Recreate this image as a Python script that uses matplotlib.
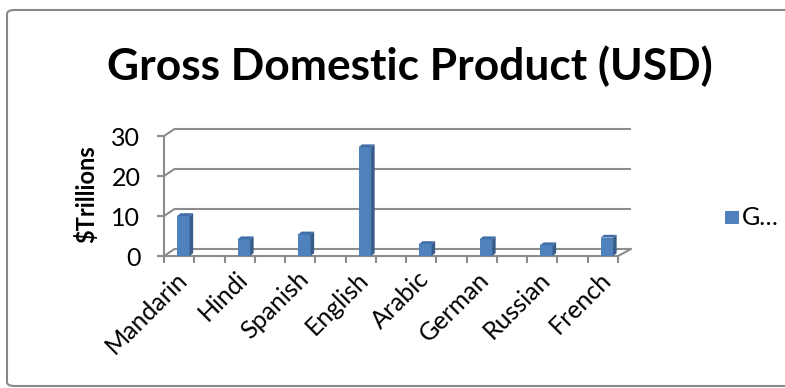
import matplotlib
matplotlib.use("Agg")
import matplotlib.pyplot as plt
from matplotlib.patches import Polygon, Rectangle, FancyBboxPatch
import numpy as np

categories = ["Mandarin", "Hindi", "Spanish", "English", "Arabic", "German", "Russian", "French"]
values = [10.0, 4.2, 5.4, 27.2, 3.0, 4.2, 2.7, 4.6]
y_ticks = [0, 10, 20, 30]
title = "Gross Domestic Product (USD)"
y_label = "$Trillions"
legend_label = "G…"

W, H = 785, 388
plt.rcParams['font.family'] = ['Lato', 'DejaVu Sans']
fig = plt.figure(figsize=(W / 100, H / 100), dpi=100)

def fx(px):
    return px / W

def fy(py):
    return 1 - py / H

# chart frame
frame = FancyBboxPatch((fx(7), fy(386)), fx(800) - fx(7), fy(10) - fy(386),
                       boxstyle="round,pad=0,rounding_size=0.01",
                       transform=fig.transFigure, facecolor="white",
                       edgecolor="#888888", linewidth=1.5, zorder=0)
fig.add_artist(frame)

# axes (front plane)
ax_l, ax_r, ax_b, ax_t = 164, 618, 256, 136
ax = fig.add_axes([fx(ax_l), fy(ax_b), (ax_r - ax_l) / W, (ax_b - ax_t) / H])
ax.patch.set_alpha(0)

cat_px0, cat_step = 183.3, 60.5
x0 = (ax_l - cat_px0) / cat_step
x1 = (ax_r - cat_px0) / cat_step
ax.set_xlim(x0, x1)
ax.set_ylim(0, 30)
px_per_y = (ax_b - ax_t) / 30.0

grid_c = "#8c8c8c"
lw = 1.5
# back wall gridlines with depth
gdx_l = 10.5 / cat_step
gdx_r = 13.0 / cat_step
gdy = 7.0 / px_per_y
for yv in y_ticks:
    ax.plot([x0, x0 + gdx_l, x1 + gdx_r], [yv, yv + gdy, yv + gdy],
            color=grid_c, lw=lw, clip_on=False, zorder=1, solid_capstyle='butt')
# floor right edge
ax.plot([x1, x1 + gdx_r], [0, gdy], color=grid_c, lw=lw, clip_on=False, zorder=1)

# bars
xs = np.arange(len(categories))
bw = 12.5 / cat_step
ax.bar(xs, values, width=bw, color="#4f81bd", edgecolor="none", zorder=4)
bdx = 3.6 / cat_step
bdy = 2.8 / px_per_y
for x, v in zip(xs, values):
    xr = x + bw / 2
    xl = x - bw / 2
    side = Polygon([(xr, 0), (xr + bdx, bdy), (xr + bdx, v + bdy), (xr, v)],
                   closed=True, facecolor="#385d8a", edgecolor="none",
                   zorder=4, clip_on=False)
    top = Polygon([(xl, v), (xl + bdx, v + bdy), (xr + bdx, v + bdy), (xr, v)],
                  closed=True, facecolor="#3f6ea8", edgecolor="none",
                  zorder=4, clip_on=False)
    ax.add_patch(side)
    ax.add_patch(top)

# spines
for s in ["top", "right"]:
    ax.spines[s].set_visible(False)
for s in ["left", "bottom"]:
    ax.spines[s].set_color(grid_c)
    ax.spines[s].set_linewidth(lw)
    ax.spines[s].set_zorder(2)

ax.set_yticks(y_ticks)
ax.set_yticklabels([str(t) for t in y_ticks], fontsize=18)
ax.tick_params(axis='y', length=5, width=lw, color=grid_c, pad=12)

ax.set_xticks(np.linspace(x0, x1, 16), minor=True)
ax.set_xticks(xs)
ax.set_xticklabels(categories, fontsize=18, rotation=45, ha='right',
                   va='center', rotation_mode='anchor')
ax.tick_params(axis='x', which='major', length=0, pad=14)
ax.tick_params(axis='x', which='minor', length=5, width=lw, color=grid_c)

fig.text(fx(86), fy(194), y_label, rotation=90, fontsize=17, fontweight='bold',
         ha='center', va='center')

t = fig.text(fx(410), fy(80), title, fontsize=30, fontweight='bold',
             ha='center', va='baseline')
fig.canvas.draw()
w = t.get_window_extent().width
t.set_fontsize(30 * 606 / w)

# legend
fig.add_artist(Rectangle((fx(725), fy(224)), 14 / W, 13 / H, transform=fig.transFigure,
                         facecolor="#4f81bd", edgecolor="none"))
fig.text(fx(742), fy(217.5), legend_label, fontsize=18, ha='left', va='center')

fig.savefig("out.png", dpi=100)
